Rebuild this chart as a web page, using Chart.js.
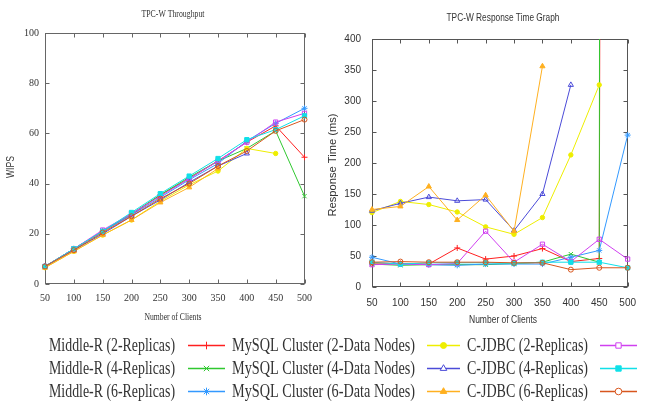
<!DOCTYPE html>
<html>
<head>
<meta charset="utf-8">
<script src="https://cdn.jsdelivr.net/npm/chart.js@4.4.0/dist/chart.umd.min.js"></script>
<style>
    html, body { margin: 0; padding: 0; background: #fff; }
    #wrap { position: relative; width: 646px; height: 408px; overflow: hidden; }
    #left { position: absolute; left: 0; top: 0; width: 320px; height: 330px; }
    #right { position: absolute; left: 320px; top: 0; width: 326px; height: 330px; }
    #legend { position: absolute; left: 0; top: 330px; }
</style>
</head>
<body>
<div id="wrap">
    <div id="left"><canvas id="tputChart"></canvas></div>
    <div id="right"><canvas id="respChart"></canvas></div>
    <canvas id="legend" width="646" height="78"></canvas>
</div>
<script>
/* TPC-W throughput / response time */

const clients = [50, 100, 150, 200, 250, 300, 350, 400, 450, 500];
const seriesLabels = [
    'Middle-R (2-Replicas)', 'Middle-R (4-Replicas)', 'Middle-R (6-Replicas)',
    'MySQL Cluster (2-Data Nodes)', 'MySQL Cluster (4-Data Nodes)', 'MySQL Cluster (6-Data Nodes)',
    'C-JDBC (2-Replicas)', 'C-JDBC (4-Replicas)', 'C-JDBC (6-Replicas)'
];
const wipsTicks = [0, 20, 40, 60, 80, 100];
const respTicks = [0, 50, 100, 150, 200, 250, 300, 350, 400];

// throughput (WIPS)
const wipsMiddleR2 = [7, 14, 21, 27.5, 35.5, 42, 49, 56.5, 63, 50.5];
const wipsMiddleR4 = [7, 14, 21, 28, 35.5, 42.5, 49, 54, 61, 35];
const wipsMiddleR6 = [7, 14, 21, 27.5, 34.5, 41.5, 48, 57, 64, 70];
const wipsMysql2 = [6.5, 13, 19.5, 25.5, 33, 39.5, 45, 54, 52];
const wipsMysql4 = [7, 13.5, 20, 27, 33.5, 40.5, 47, 52];
const wipsMysql6 = [6.5, 13, 19.5, 25.5, 32.5, 38.5, 46];
const wipsCjdbc2 = [7, 14, 21.5, 28, 35, 42, 49, 56.5, 64.5, 68];
const wipsCjdbc4 = [7, 14, 21, 28.5, 36, 43, 50, 57.5, 61.5, 67];
const wipsCjdbc6 = [7, 13.5, 20.5, 27, 34, 40, 47, 53, 61, 65.5];

// response time (ms)
const rtMiddleR2 = [37, 38, 37, 63, 45, 50, 62, 41, 46, 20000];
const rtMiddleR4 = [37, 35, 36, 36, 36, 38, 40, 53, 40, 40000];
const rtMiddleR6 = [48, 37, 36, 35, 37, 37, 37, 48, 59, 245];
const rtMysql2 = [120, 138, 133, 121, 97, 85, 112, 213, 326];
const rtMysql4 = [123, 135, 145, 139, 141, 91, 150, 326];
const rtMysql6 = [125, 130, 162, 108, 148, 90, 356];
const rtCjdbc2 = [36, 37, 36, 38, 90, 40, 69, 41, 77, 45];
const rtCjdbc4 = [40, 37, 39, 39, 39, 38, 40, 40, 40, 31];
const rtCjdbc6 = [40, 41, 40, 40, 40, 39, 39, 28, 31, 31];

const wipsSeries = [wipsMiddleR2, wipsMiddleR4, wipsMiddleR6, wipsMysql2, wipsMysql4, wipsMysql6, wipsCjdbc2, wipsCjdbc4, wipsCjdbc6];
const respSeries = [rtMiddleR2, rtMiddleR4, rtMiddleR6, rtMysql2, rtMysql4, rtMysql6, rtCjdbc2, rtCjdbc4, rtCjdbc6];

const colors = ['#ff2020', '#30c830', '#3399ff', '#eeee00', '#4b4bd8', '#ffb020', '#d040f0', '#10e0e8', '#d8561e'];
const markers = ['cross', 'crossRot', 'star', 'circle', 'triangle', 'triangle', 'rect', 'rect', 'circle'];
const filled = [false, false, false, true, false, true, false, true, false];
const markerSize = [3, 3, 3, 2.2, 3, 3, 3, 3, 2.5];

const SERIF = '"Liberation Serif", "DejaVu Serif", serif';
const SANS = '"Liberation Sans", Arial, sans-serif';

function fitText(ctx, t) {
    ctx.save();
    ctx.font = t.font;
    ctx.fillStyle = t.color || '#333';
    ctx.textAlign = t.align || 'center';
    ctx.textBaseline = 'middle';
    ctx.translate(t.x, t.y);
    if (t.rot) ctx.rotate(t.rot);
    if (t.width) ctx.scale(t.width / ctx.measureText(t.text).width, 1);
    ctx.fillText(t.text, 0, 0);
    ctx.restore();
}

// gnuplot-ish frame with inward mirrored ticks, plus titles
const framePlugin = {
    id: 'frame',
    beforeDatasetsDraw(chart, args, opts) {
        const { ctx, chartArea: a, scales: { x, y } } = chart;
        ctx.save();
        ctx.strokeStyle = opts.color;
        ctx.lineWidth = 1;
        const l = Math.round(a.left) + 0.5, r = Math.round(a.right) - 0.5;
        const t = Math.round(a.top) + 0.5, b = Math.round(a.bottom) - 0.5;
        ctx.strokeRect(l, t, r - l, b - t);
        ctx.beginPath();
        x.ticks.forEach((tk, i) => {
            const px = Math.round(x.getPixelForTick(i)) + 0.5;
            ctx.moveTo(px, b); ctx.lineTo(px, b - 4);
            ctx.moveTo(px, t); ctx.lineTo(px, t + 4);
        });
        y.ticks.forEach((tk, i) => {
            const py = Math.round(y.getPixelForTick(i)) + 0.5;
            ctx.moveTo(l, py); ctx.lineTo(l + 4, py);
            ctx.moveTo(r, py); ctx.lineTo(r - 4, py);
        });
        ctx.stroke();
        ctx.restore();
    },
    afterDraw(chart, args, opts) {
        opts.texts.forEach(t => fitText(chart.ctx, t));
    }
};

function buildDatasets(series) {
    return series.map((data, i) => ({
        label: seriesLabels[i],
        data: data,
        borderColor: colors[i],
        backgroundColor: filled[i] ? colors[i] : 'rgba(0,0,0,0)',
        pointBorderColor: colors[i],
        pointBackgroundColor: filled[i] ? colors[i] : 'rgba(0,0,0,0)',
        pointStyle: markers[i],
        pointRadius: markerSize[i],
        pointBorderWidth: 1,
        borderWidth: 1,
        tension: 0,
        fill: false,
        order: series.length - i
    }));
}

function makeChart(id, series, yTicks, cfg) {
    return new Chart(document.getElementById(id), {
        type: 'line',
        data: { labels: clients, datasets: buildDatasets(series) },
        plugins: [framePlugin],
        options: {
            responsive: true,
            maintainAspectRatio: false,
            animation: false,
            layout: { padding: cfg.padding },
            plugins: {
                legend: { display: false },
                tooltip: { enabled: false },
                frame: { color: cfg.frameColor, texts: cfg.texts }
            },
            scales: {
                x: {
                    grid: { display: false, drawTicks: false },
                    border: { display: false },
                    ticks: { color: '#333', font: cfg.tickFont, padding: cfg.xPad, maxRotation: 0, autoSkip: false },
                    afterFit: s => { s.height = cfg.xHeight; }
                },
                y: {
                    min: yTicks[0],
                    max: yTicks[yTicks.length - 1],
                    grid: { display: false, drawTicks: false },
                    border: { display: false },
                    afterBuildTicks: s => { s.ticks = yTicks.map(v => ({ value: v })); },
                    ticks: { color: '#333', font: cfg.tickFont, padding: cfg.yPad },
                    afterFit: s => { s.width = cfg.yWidth; }
                }
            }
        }
    });
}

document.addEventListener('DOMContentLoaded', () => {
    makeChart('tputChart', wipsSeries, wipsTicks, {
        padding: { left: 0, top: 33, right: 15, bottom: 0 },
        yWidth: 45, xHeight: 330 - 284, xPad: 8, yPad: 6,
        frameColor: '#666',
        tickFont: { family: SERIF, size: 10 },
        texts: [
            { text: 'TPC-W Throughput', x: 173, y: 14, font: '10px ' + SERIF, width: 63 },
            { text: 'Number of Clients', x: 173, y: 317, font: '10px ' + SERIF, width: 57 },
            { text: 'WIPS', x: 11, y: 167, rot: -Math.PI / 2, font: '10px ' + SANS, width: 22 }
        ]
    });

    makeChart('respChart', respSeries, respTicks, {
        padding: { left: 0, top: 39, right: 6, bottom: 0 },
        yWidth: 52, xHeight: 330 - 287, xPad: 10, yPad: 11,
        frameColor: '#555',
        tickFont: { family: SANS, size: 10 },
        texts: [
            { text: 'TPC-W Response Time Graph', x: 183, y: 18, font: '10px ' + SANS, width: 113 },
            { text: 'Number of Clients', x: 183, y: 320, font: '10px ' + SANS, width: 68 },
            { text: 'Response Time (ms)', x: 13, y: 165, rot: -Math.PI / 2, font: '11px ' + SANS, width: 103 }
        ]
    });

    // legend: text then line sample, three columns x three rows
    const lg = document.getElementById('legend').getContext('2d');
    const cols = [
        { tx: 49, tw: 126, s0: 188, s1: 225 },
        { tx: 232, tw: 183, s0: 427, s1: 460 },
        { tx: 467, tw: 121, s0: 600, s1: 637 }
    ];
    const rowY = [15, 38, 61];
    const lfont = '18px ' + SERIF;
    lg.font = lfont;
    cols.forEach((c, ci) => {
        const sx = c.tw / lg.measureText(seriesLabels[ci * 3]).width;
        rowY.forEach((ry, ri) => {
            const i = ci * 3 + ri;
            lg.save();
            lg.font = lfont;
            lg.fillStyle = '#333';
            lg.textBaseline = 'middle';
            lg.translate(c.tx, ry + 1);
            lg.scale(sx, 1);
            lg.fillText(seriesLabels[i], 0, 0);
            lg.restore();

            lg.save();
            lg.strokeStyle = colors[i];
            lg.lineWidth = 1.5;
            lg.beginPath();
            lg.moveTo(c.s0, ry + 0.5);
            lg.lineTo(c.s1, ry + 0.5);
            lg.stroke();
            lg.fillStyle = filled[i] ? colors[i] : '#fff';
            lg.lineWidth = 1;
            Chart.helpers.drawPoint(lg, { pointStyle: markers[i], radius: markerSize[i] + 0.8, rotation: 0, borderWidth: 1 }, (c.s0 + c.s1) / 2, ry + 0.5);
            lg.restore();
        });
    });
});
</script>
</body>
</html>
